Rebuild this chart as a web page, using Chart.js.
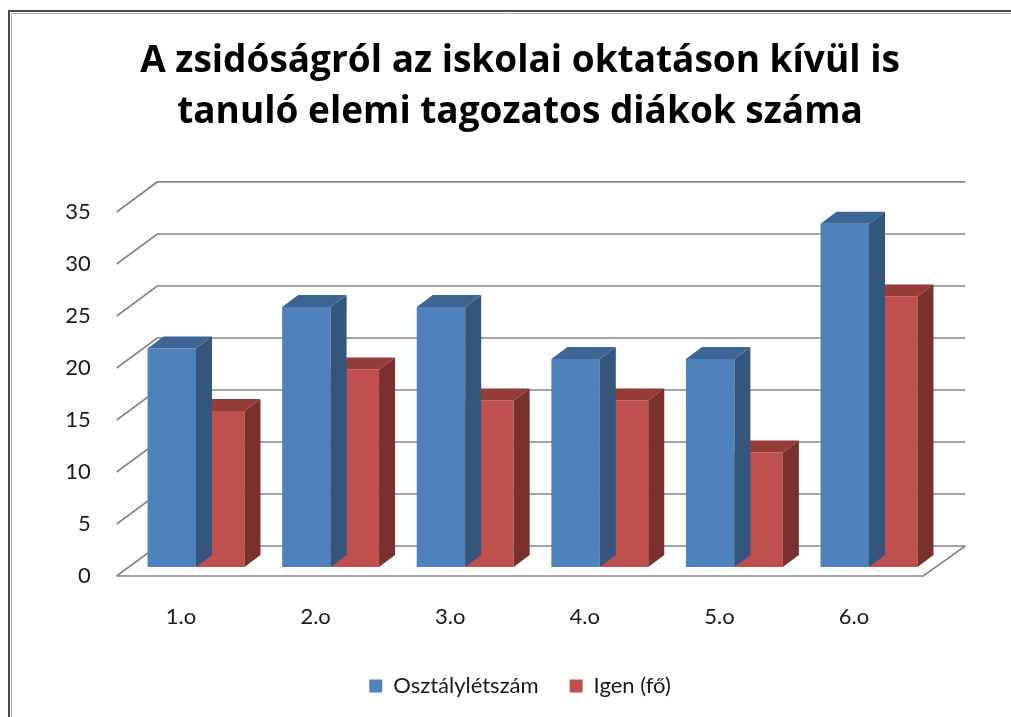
<!DOCTYPE html>
<html>
<head>
<meta charset="utf-8">
<script src="https://cdn.jsdelivr.net/npm/chart.js@4/dist/chart.umd.min.js"></script>
<style>
  html, body { margin: 0; padding: 0; background: #fff; }
  #wrap { width: 1011px; height: 717px; }
</style>
</head>
<body>
<div id="wrap"><canvas id="chart"></canvas></div>
<script>
const categories = ['1.o', '2.o', '3.o', '4.o', '5.o', '6.o'];
const classSize = [21, 25, 25, 20, 20, 33];
const yesCount = [15, 19, 16, 16, 11, 26];
const seriesNames = ['Osztálylétszám', 'Igen (fő)'];
const titleLines = ['A zsidóságról az iskolai oktatáson kívül is', 'tanuló elemi tagozatos diákok száma'];

const FONT = 'Lato, "Open Sans", sans-serif';
const TITLE_FONT = '"Open Sans", Lato, sans-serif';
const DEPTH_X = 16, DEPTH_Y = -12;

// darker faces for the fake 3D look
const faceColors = [
  { top: '#3d6695', side: '#34557c' },
  { top: '#953c39', side: '#7a302e' }
];

const frame3d = {
  id: 'frame3d',
  beforeDraw(chart) {
    const ctx = chart.ctx;
    ctx.save();
    ctx.fillStyle = '#fff';
    ctx.fillRect(0, 0, chart.width, chart.height);
    // outer border of the pasted chart
    ctx.strokeStyle = '#4a4a4a';
    ctx.lineWidth = 2;
    ctx.beginPath();
    ctx.moveTo(9, chart.height + 5);
    ctx.lineTo(9, 11);
    ctx.lineTo(chart.width + 5, 11);
    ctx.stroke();
    ctx.strokeStyle = '#b0b0b0';
    ctx.lineWidth = 1;
    ctx.beginPath();
    ctx.moveTo(11.5, chart.height + 5);
    ctx.lineTo(11.5, 13.5);
    ctx.lineTo(chart.width + 5, 13.5);
    ctx.stroke();
    ctx.restore();
  },
  beforeDatasetsDraw(chart) {
    const { ctx, chartArea: a, scales: { y } } = chart;
    const backL = a.left + 28.5, backR = a.right + 29;
    const frontL = a.left - 12, frontR = a.right - 13;
    ctx.save();
    ctx.strokeStyle = '#868686';
    ctx.lineWidth = 1.7;
    y.ticks.forEach(t => {
      const py = y.getPixelForValue(t.value);
      ctx.beginPath();
      ctx.moveTo(frontL, py + 9);
      ctx.lineTo(backL, py - 21);
      ctx.lineTo(backR, py - 21);
      ctx.stroke();
    });
    const p0 = y.getPixelForValue(0);
    ctx.beginPath();
    ctx.moveTo(frontL, p0 + 9);
    ctx.lineTo(frontR, p0 + 9);
    ctx.lineTo(backR, p0 - 21);
    ctx.stroke();
    ctx.restore();
  },
  afterDatasetDraw(chart, args) {
    const ctx = chart.ctx;
    const c = faceColors[args.index];
    ctx.save();
    args.meta.data.forEach(bar => {
      const { x, y, base, width } = bar.getProps(['x', 'y', 'base', 'width'], true);
      const l = x - width / 2, r = x + width / 2;
      ctx.fillStyle = c.side;
      ctx.beginPath();
      ctx.moveTo(r, y);
      ctx.lineTo(r + DEPTH_X, y + DEPTH_Y);
      ctx.lineTo(r + DEPTH_X, base + DEPTH_Y);
      ctx.lineTo(r, base);
      ctx.closePath();
      ctx.fill();
      ctx.fillStyle = c.top;
      ctx.beginPath();
      ctx.moveTo(l, y);
      ctx.lineTo(r, y);
      ctx.lineTo(r + DEPTH_X, y + DEPTH_Y);
      ctx.lineTo(l + DEPTH_X, y + DEPTH_Y);
      ctx.closePath();
      ctx.fill();
    });
    ctx.restore();
  }
};

new Chart(document.getElementById('chart'), {
  type: 'bar',
  data: {
    labels: categories,
    datasets: [
      { label: seriesNames[0], data: classSize, backgroundColor: '#4f81bd' },
      { label: seriesNames[1], data: yesCount, backgroundColor: '#c0504d' }
    ]
  },
  options: {
    responsive: true,
    maintainAspectRatio: false,
    animation: false,
    layout: { padding: { left: 29, right: 0, top: 0, bottom: 10 } },
    categoryPercentage: 0.72,
    barPercentage: 1,
    scales: {
      x: {
        grid: { display: false, drawTicks: false },
        border: { display: false },
        ticks: { color: '#1a1a1a', font: { family: FONT, size: 22 }, padding: 37, labelOffset: -15, maxRotation: 0 },
        afterFit: s => { s.height = 77; }
      },
      y: {
        min: 0, max: 35,
        grid: { display: false, drawTicks: false },
        border: { display: false },
        ticks: { stepSize: 5, color: '#1a1a1a', font: { family: FONT, size: 22 }, padding: 38, labelOffset: 9 },
        afterFit: s => { s.width = 99.7; }
      },
      yR: {
        position: 'right',
        min: 0, max: 35,
        grid: { display: false, drawTicks: false },
        border: { display: false },
        ticks: { display: false },
        afterFit: s => { s.width = 74.7; }
      }
    },
    plugins: {
      title: {
        display: true,
        text: titleLines,
        color: '#000',
        font: { family: TITLE_FONT, size: 37, weight: 'bold', lineHeight: 1.378 },
        padding: { top: 35.5, bottom: 65.5 }
      },
      legend: {
        position: 'bottom',
        labels: {
          color: '#1a1a1a',
          font: { family: FONT, size: 22 },
          boxWidth: 13, boxHeight: 13,
          padding: 31
        }
      },
      tooltip: { enabled: false }
    }
  },
  plugins: [frame3d]
});
</script>
</body>
</html>
